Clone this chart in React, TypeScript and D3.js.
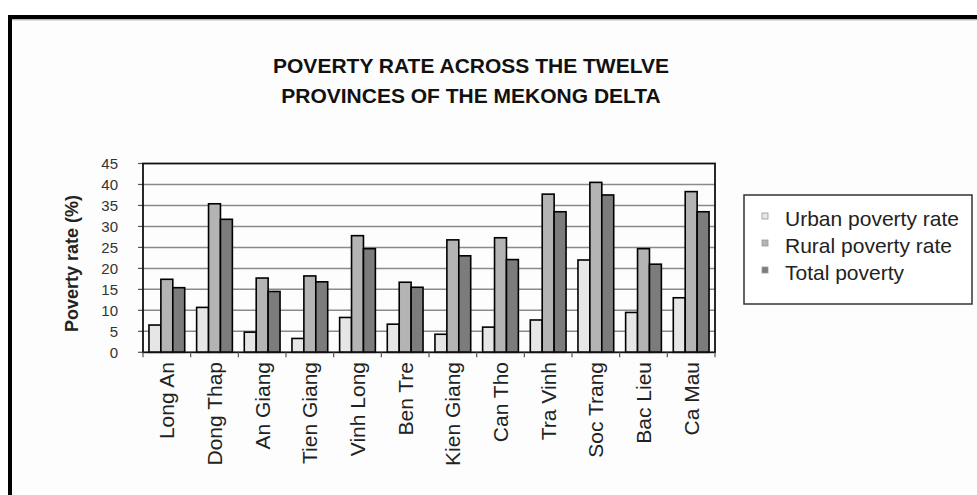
import React from "react";
import * as d3 from "d3";

const provinces = ["Long An", "Dong Thap", "An Giang", "Tien Giang", "Vinh Long", "Ben Tre", "Kien Giang", "Can Tho", "Tra Vinh", "Soc Trang", "Bac Lieu", "Ca Mau"];
const urbanRate = [6.5, 10.7, 4.8, 3.3, 8.3, 6.7, 4.3, 6.0, 7.7, 22.0, 9.5, 13.0];
const ruralRate = [17.4, 35.4, 17.7, 18.2, 27.8, 16.7, 26.8, 27.3, 37.7, 40.5, 24.7, 38.3];
const totalRate = [15.4, 31.7, 14.5, 16.8, 24.7, 15.5, 23.0, 22.1, 33.5, 37.5, 21.0, 33.5];
const seriesNames = ["Urban poverty rate", "Rural poverty rate", "Total poverty"];
const yTicks = [0, 5, 10, 15, 20, 25, 30, 35, 40, 45];
const titleLines = ["POVERTY RATE ACROSS THE TWELVE", "PROVINCES OF THE MEKONG DELTA"];
const yTitle = "Poverty rate (%)";

const colors = ["#e6e6e6", "#b4b4b4", "#7c7c7c"];

export default function App() {
  const W = 977, H = 495;
  const left = 143, right = 715, top = 163.5, bottom = 352.3;
  const series = [urbanRate, ruralRate, totalRate];

  const x0 = d3.scaleBand<string>().domain(provinces).range([left, right]).paddingInner(0.25).paddingOuter(0.125);
  const step = (right - left) / provinces.length;
  const x1 = d3.scaleBand<number>().domain([0, 1, 2]).range([0, x0.bandwidth()]).padding(0);
  const y = d3.scaleLinear().domain([0, 45]).range([bottom, top]);

  const sans = "'Liberation Sans', Arial, sans-serif";

  return (
    <svg width={W} height={H} style={{ position: "absolute", left: 0, top: 0, background: "#fff" }}>
      <rect x={0} y={0} width={W} height={H} fill="#fff" />
      {/* outer frame */}
      <rect x={10} y={17} width={1100} height={600} fill="#fdfdfd" stroke="#000" strokeWidth={4} />
      <line x1={12} x2={W} y1={19.8} y2={19.8} stroke="#999" strokeWidth={1} />

      {/* title */}
      {titleLines.map((t, i) => (
        <text key={t} x={471} y={72.7 + i * 30} textAnchor="middle" fontFamily={sans} fontWeight="bold" fontSize={21} fill="#111">
          {t}
        </text>
      ))}

      {/* gridlines */}
      {yTicks.filter((v) => v > 0 && v < 45).map((v) => (
        <line key={"g" + v} x1={left} x2={right} y1={y(v)} y2={y(v)} stroke="#8a8a8a" strokeWidth={1.5} />
      ))}
      {/* y ticks and labels */}
      {yTicks.map((v) => (
        <g key={"t" + v}>
          <line x1={left - 5} x2={left} y1={y(v)} y2={y(v)} stroke="#555" strokeWidth={1.2} />
          <text x={118} y={y(v)} dy="0.36em" textAnchor="end" fontFamily={sans} fontSize={15} fill="#333">
            {v}
          </text>
        </g>
      ))}

      {/* bars */}
      {provinces.map((p, i) => (
        <g key={p} transform={`translate(${x0(p)},0)`}>
          {series.map((s, k) => (
            <rect
              key={k}
              x={x1(k)}
              y={y(s[i])}
              width={x1.bandwidth()}
              height={y(0) - y(s[i])}
              fill={colors[k]}
              stroke="#000"
              strokeWidth={1.6}
            />
          ))}
        </g>
      ))}

      {/* plot border */}
      <rect x={left} y={top} width={right - left} height={bottom - top} fill="none" stroke="#111" strokeWidth={1.8} />

      {/* x ticks */}
      {d3.range(provinces.length + 1).map((i) => (
        <line key={"xt" + i} x1={left + i * step} x2={left + i * step} y1={bottom} y2={bottom + 5} stroke="#555" strokeWidth={1.2} />
      ))}

      {/* x labels */}
      {provinces.map((p) => {
        const cx = (x0(p) as number) + x0.bandwidth() / 2;
        return (
          <text
            key={"l" + p}
            transform={`translate(${cx},${362}) rotate(-90)`}
            textAnchor="end"
            dy="0.36em"
            fontFamily={sans}
            fontSize={21}
            fill="#222"
          >
            {p}
          </text>
        );
      })}

      {/* y title */}
      <text
        transform={`translate(72,263.5) rotate(-90)`}
        textAnchor="middle"
        dy="0.36em"
        fontFamily={sans}
        fontWeight="bold"
        fontSize={18}
        fill="#222"
      >
        {yTitle}
      </text>

      {/* legend */}
      <rect x={744} y={195} width={228} height={109} fill="#fff" stroke="#333" strokeWidth={1.5} />
      {seriesNames.map((n, k) => (
        <g key={n}>
          <rect x={762} y={220 + k * 27 - 7} width={6} height={6} fill={colors[k]} stroke="#999" strokeWidth={0.8} />
          <text x={785} y={226 + k * 27} fontFamily={sans} fontSize={21} fill="#222">
            {n}
          </text>
        </g>
      ))}
    </svg>
  );
}
